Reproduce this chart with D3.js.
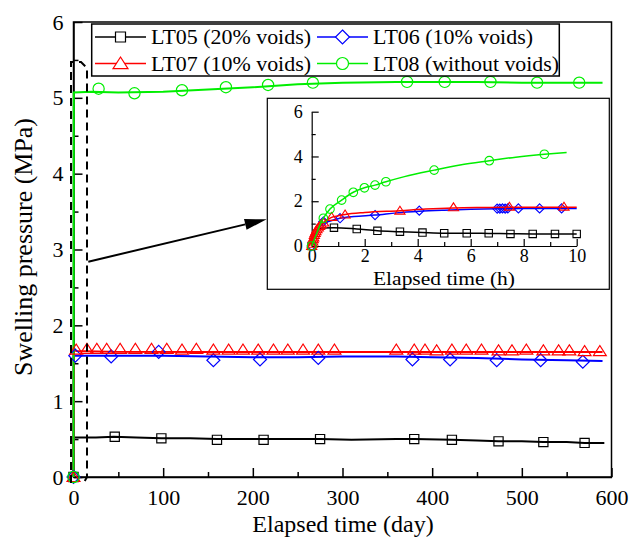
<!DOCTYPE html>
<html><head><meta charset="utf-8">
<script src="https://cdn.jsdelivr.net/npm/d3@7/dist/d3.min.js"></script>
<style>
body{margin:0;background:#fff}
svg{display:block}
</style>
</head><body>
<svg id="c" width="630" height="542" font-family="Liberation Serif, Times New Roman, DejaVu Serif, serif"></svg>
<script>
// ---------------- DATA ----------------
const seriesNames = ["LT05 (20% voids)", "LT06 (10% voids)", "LT07 (10% voids)", "LT08 (without voids)"];
const seriesColors = ["#000000", "#0000ff", "#ff0000", "#00ee00"];
const seriesShapes = ["square", "diamond", "triangle", "circle"];

const xTicksMain = [0, 100, 200, 300, 400, 500, 600];
const xMinorMain = [50, 150, 250, 350, 450, 550];
const yTicksMain = [0, 1, 2, 3, 4, 5, 6];
const yMinorMain = [0.5, 1.5, 2.5, 3.5, 4.5, 5.5];
const xTicksInset = [0, 2, 4, 6, 8, 10];
const xMinorInset = [1, 3, 5, 7, 9];
const yTicksInset = [0, 2, 4, 6];
const yMinorInset = [1, 3, 5];

// main chart (days)
const lt05LineDay = [0, 0.3, 10, 25, 45, 70, 98, 130, 160, 212, 250, 275, 310, 360, 380, 422, 450, 474, 500, 524, 550, 570, 592];
const lt05LineVal = [0, 0.52, 0.52, 0.52, 0.53, 0.52, 0.51, 0.51, 0.50, 0.50, 0.50, 0.50, 0.49, 0.50, 0.50, 0.49, 0.48, 0.47, 0.47, 0.46, 0.46, 0.45, 0.45];
const lt05MarkDay = [0, 46, 98, 160, 212, 275, 380, 422, 474, 524, 570];
const lt05MarkVal = [0, 0.53, 0.51, 0.49, 0.49, 0.50, 0.50, 0.49, 0.47, 0.46, 0.45];

const lt06LineDay = [0, 0.3, 20, 50, 100, 150, 200, 250, 300, 360, 400, 450, 500, 550, 590];
const lt06LineVal = [0, 1.60, 1.60, 1.60, 1.60, 1.59, 1.58, 1.58, 1.59, 1.59, 1.58, 1.57, 1.55, 1.54, 1.53];
const lt06MarkDay = [0, 2, 42, 95, 156, 208, 273, 378, 420, 472, 521, 568];
const lt06MarkVal = [0, 1.60, 1.59, 1.65, 1.54, 1.55, 1.57, 1.55, 1.55, 1.54, 1.54, 1.52];

const lt07LineDay = [0, 0.3, 3, 50, 150, 300, 450, 590];
const lt07LineVal = [0, 1.70, 1.66, 1.65, 1.65, 1.65, 1.65, 1.65];
const lt07MarkDay = [0, 3, 15, 26, 37, 52, 69, 87, 104, 121, 137, 156, 173, 189, 206, 223, 239, 256, 273, 291, 360, 380, 392, 405, 422, 438, 455, 474, 489, 505, 524, 541, 553, 570, 587];
const lt07MarkVal = [0, 1.68, 1.69, 1.69, 1.69, 1.69, 1.69, 1.69, 1.69, 1.68, 1.69, 1.68, 1.68, 1.68, 1.68, 1.68, 1.68, 1.68, 1.68, 1.68, 1.68, 1.68, 1.68, 1.67, 1.68, 1.68, 1.68, 1.67, 1.67, 1.68, 1.67, 1.67, 1.67, 1.66, 1.66];

const lt08LineDay = [0, 0.3, 20, 50, 100, 150, 200, 250, 300, 360, 400, 450, 500, 550, 590];
const lt08LineVal = [0, 5.07, 5.08, 5.07, 5.08, 5.11, 5.14, 5.18, 5.20, 5.21, 5.21, 5.21, 5.20, 5.20, 5.20];
const lt08MarkDay = [0, 28, 68, 121, 170, 217, 267, 372, 414, 465, 517, 564];
const lt08MarkVal = [0, 5.12, 5.06, 5.10, 5.14, 5.17, 5.20, 5.21, 5.21, 5.21, 5.20, 5.20];

// inset (hours)
const lt05InLineH = [0, 0.1, 0.2, 0.4, 0.84, 1.7, 2.48, 3.33, 4.18, 5.0, 5.85, 6.68, 7.5, 8.34, 9.18, 10];
const lt05InLineV = [0, 0.35, 0.6, 0.8, 0.82, 0.76, 0.68, 0.64, 0.60, 0.57, 0.57, 0.56, 0.55, 0.54, 0.54, 0.54];
const lt05InMarkH = [0, 0.84, 1.7, 2.48, 3.33, 4.18, 5.0, 5.85, 6.68, 7.5, 8.34, 9.18, 10];
const lt05InMarkV = [0, 0.82, 0.76, 0.68, 0.64, 0.60, 0.57, 0.57, 0.57, 0.54, 0.54, 0.54, 0.54];

const lt06InLineH = [0, 0.05, 0.15, 0.3, 0.44, 0.7, 1.07, 1.6, 2.39, 3.2, 4.06, 5, 6, 7, 8, 9, 10];
const lt06InLineV = [0, 0.3, 0.6, 0.85, 1.0, 1.12, 1.24, 1.32, 1.38, 1.48, 1.55, 1.6, 1.64, 1.66, 1.67, 1.67, 1.67];
const lt06InMarkH = [0, 0.44, 1.07, 2.39, 4.06, 7.0, 7.1, 7.2, 7.3, 7.4, 7.8, 8.6, 9.43];
const lt06InMarkV = [0, 1.09, 1.24, 1.38, 1.58, 1.67, 1.67, 1.68, 1.67, 1.68, 1.68, 1.68, 1.68];

const lt07InLineH = [0, 0.03, 0.06, 0.1, 0.15, 0.2, 0.3, 0.4, 0.5, 0.75, 1.0, 1.26, 2, 3.33, 4.3, 5.35, 6.4, 7.46, 8.5, 9.52, 10];
const lt07InLineV = [0, 0.2, 0.35, 0.5, 0.65, 0.75, 0.9, 1.0, 1.1, 1.28, 1.35, 1.41, 1.5, 1.58, 1.65, 1.7, 1.72, 1.73, 1.73, 1.73, 1.73];
const lt07InMarkH = [0, 0.02, 0.04, 0.06, 0.08, 0.1, 0.13, 0.16, 0.2, 0.25, 0.3, 0.36, 0.45, 0.75, 1.26, 3.33, 5.35, 7.46, 9.52];
const lt07InMarkV = [0, 0.1, 0.2, 0.3, 0.38, 0.5, 0.58, 0.66, 0.75, 0.83, 0.9, 0.97, 1.05, 1.3, 1.41, 1.58, 1.73, 1.76, 1.76];

const lt08InLineH = [0, 0.1, 0.2, 0.3, 0.44, 0.69, 1.13, 1.57, 1.99, 2.39, 2.8, 3.5, 4.62, 5.6, 6.7, 7.7, 8.78, 9.62];
const lt08InLineV = [0, 0.3, 0.6, 0.9, 1.24, 1.65, 2.05, 2.4, 2.6, 2.72, 2.87, 3.1, 3.39, 3.62, 3.81, 3.97, 4.1, 4.18];
const lt08InMarkH = [0, 0.44, 0.69, 1.13, 1.57, 1.99, 2.39, 2.8, 4.62, 6.7, 8.78];
const lt08InMarkV = [0, 1.24, 1.65, 2.05, 2.4, 2.6, 2.72, 2.87, 3.39, 3.81, 4.1];

// --------------- BUILD ---------------
const FONT = "Liberation Serif, Times New Roman, DejaVu Serif, serif";
const zip = (a, b) => a.map((v, i) => [v, b[i]]);
const series = [
  {line: zip(lt05LineDay, lt05LineVal), mark: zip(lt05MarkDay, lt05MarkVal), inLine: zip(lt05InLineH, lt05InLineV), inMark: zip(lt05InMarkH, lt05InMarkV)},
  {line: zip(lt06LineDay, lt06LineVal), mark: zip(lt06MarkDay, lt06MarkVal), inLine: zip(lt06InLineH, lt06InLineV), inMark: zip(lt06InMarkH, lt06InMarkV)},
  {line: zip(lt07LineDay, lt07LineVal), mark: zip(lt07MarkDay, lt07MarkVal), inLine: zip(lt07InLineH, lt07InLineV), inMark: zip(lt07InMarkH, lt07InMarkV)},
  {line: zip(lt08LineDay, lt08LineVal), mark: zip(lt08MarkDay, lt08MarkVal), inLine: zip(lt08InLineH, lt08InLineV), inMark: zip(lt08InMarkH, lt08InMarkV)}
].map((s, i) => Object.assign(s, {name: seriesNames[i], color: seriesColors[i], shape: seriesShapes[i]}));

function shapePath(kind, r) {
  const p = d3.path();
  if (kind === "square") { p.rect(-r, -r, 2 * r, 2 * r); }
  else if (kind === "circle") { p.moveTo(r, 0); p.arc(0, 0, r, 0, 2 * Math.PI); }
  else if (kind === "diamond") { p.moveTo(0, -r); p.lineTo(r, 0); p.lineTo(0, r); p.lineTo(-r, 0); p.closePath(); }
  else { p.moveTo(0, -r); p.lineTo(r * 1.15, r * 0.8); p.lineTo(-r * 1.15, r * 0.8); p.closePath(); }
  return p.toString();
}
const mainSize = {square: 4.6, circle: 5.6, diamond: 6.5, triangle: 5.6};
const inSize = {square: 3.7, circle: 4.3, diamond: 4.6, triangle: 4.4};
const legSize = {square: 5, circle: 6, diamond: 7, triangle: 6.5};

const svg = d3.select("#c");
const fmt = d3.format("d");

const x = d3.scaleLinear().domain([0, 600]).range([73.5, 611.5]);
const y = d3.scaleLinear().domain([0, 6]).range([477, 22]);

function styleAxis(g, fs, sw) {
  g.attr("font-family", FONT).attr("font-size", fs);
  g.selectAll("path.domain").attr("stroke", "#000").attr("stroke-width", sw);
  g.selectAll(".tick line").attr("stroke", "#000").attr("stroke-width", sw);
  g.selectAll(".tick text").attr("fill", "#000").attr("font-family", FONT);
}
function addText(parent, fs) {
  return parent.append("text").attr("font-family", FONT).attr("font-size", fs).attr("fill", "#000");
}

// frame
svg.append("rect").attr("x", x(0)).attr("y", y(6)).attr("width", x(600) - x(0)).attr("height", y(0) - y(6))
  .attr("fill", "none").attr("stroke", "#000").attr("stroke-width", 1.5);

// main axes
const gx = svg.append("g").attr("transform", `translate(0,${y(0)})`)
  .call(d3.axisBottom(x).tickValues(xTicksMain).tickFormat(fmt).tickSize(-9).tickSizeOuter(0).tickPadding(12));
styleAxis(gx, 22, 1.5);
const gxm = svg.append("g").attr("transform", `translate(0,${y(0)})`)
  .call(d3.axisBottom(x).tickValues(xMinorMain).tickSize(-5).tickSizeOuter(0).tickFormat(""));
styleAxis(gxm, 22, 1.5); gxm.select(".domain").remove();

const gy = svg.append("g").attr("transform", `translate(${x(0)},0)`)
  .call(d3.axisLeft(y).tickValues(yTicksMain).tickFormat(fmt).tickSize(-9).tickSizeOuter(0).tickPadding(10));
styleAxis(gy, 22, 1.5);
const gym = svg.append("g").attr("transform", `translate(${x(0)},0)`)
  .call(d3.axisLeft(y).tickValues(yMinorMain).tickSize(-5).tickSizeOuter(0).tickFormat(""));
styleAxis(gym, 22, 1.5); gym.select(".domain").remove();

// titles
addText(svg, 24).attr("x", 343).attr("y", 532).attr("text-anchor", "middle").text("Elapsed time (day)");
addText(svg, 25).attr("transform", "translate(32,247) rotate(-90)").attr("text-anchor", "middle")
  .attr("textLength", 258).attr("lengthAdjust", "spacingAndGlyphs").text("Swelling pressure (MPa)");

// main lines + markers
const lineMain = d3.line().x(d => x(d[0])).y(d => y(d[1]));
series.forEach(s => {
  svg.append("path").datum(s.line).attr("d", lineMain).attr("fill", "none").attr("stroke", s.color).attr("stroke-width", 2);
});
series.forEach(s => {
  svg.append("g").selectAll("path").data(s.mark).join("path")
    .attr("transform", d => `translate(${x(d[0])},${y(d[1])})`)
    .attr("d", shapePath(s.shape, mainSize[s.shape]))
    .attr("fill", "none").attr("stroke", s.color).attr("stroke-width", 1.2);
});

// legend
const leg = svg.append("g");
leg.append("rect").attr("x", 91.7).attr("y", 24).attr("width", 467.6).attr("height", 52)
  .attr("fill", "#fff").attr("stroke", "#000").attr("stroke-width", 1.5);
const legPos = [[95, 37], [317, 37], [95, 63.5], [317, 63.5]];
const legTextLen = [160, 160, 160, 186];
series.forEach((s, i) => {
  const [lx, ly] = legPos[i];
  const g = leg.append("g").attr("transform", `translate(${lx},${ly})`);
  g.append("line").attr("x1", 0).attr("x2", 51).attr("y1", 0).attr("y2", 0).attr("stroke", s.color).attr("stroke-width", 1.5);
  g.append("path").attr("transform", "translate(25.5,0)").attr("d", shapePath(s.shape, legSize[s.shape]))
    .attr("fill", "#fff").attr("stroke", s.color).attr("stroke-width", 1.2);
  addText(g, 20.5).attr("x", 56).attr("y", 7)
    .attr("textLength", legTextLen[i]).attr("lengthAdjust", "spacingAndGlyphs").text(s.name);
});

// inset
svg.append("rect").attr("x", 267.3).attr("y", 98.3).attr("width", 342).attr("height", 191)
  .attr("fill", "#fff").attr("stroke", "#000").attr("stroke-width", 1.2);
const xi = d3.scaleLinear().domain([0, 10]).range([311.7, 576.7]);
const yi = d3.scaleLinear().domain([0, 6]).range([246, 111.7]);
const gxi = svg.append("g").attr("transform", `translate(0,${yi(0)})`)
  .call(d3.axisBottom(xi).tickValues(xTicksInset).tickFormat(fmt).tickSize(-7).tickSizeOuter(0).tickPadding(3));
styleAxis(gxi, 18, 1.2);
const gxim = svg.append("g").attr("transform", `translate(0,${yi(0)})`)
  .call(d3.axisBottom(xi).tickValues(xMinorInset).tickSize(-4).tickSizeOuter(0).tickFormat(""));
styleAxis(gxim, 18, 1.2); gxim.select(".domain").remove();
const gyi = svg.append("g").attr("transform", `translate(${xi(0)},0)`)
  .call(d3.axisLeft(yi).tickValues(yTicksInset).tickFormat(fmt).tickSize(-7).tickSizeOuter(0).tickPadding(9));
styleAxis(gyi, 18, 1.2);
const gyim = svg.append("g").attr("transform", `translate(${xi(0)},0)`)
  .call(d3.axisLeft(yi).tickValues(yMinorInset).tickSize(-4).tickSizeOuter(0).tickFormat(""));
styleAxis(gyim, 18, 1.2); gyim.select(".domain").remove();
addText(svg, 19).attr("x", 444).attr("y", 285).attr("text-anchor", "middle")
  .attr("textLength", 142).attr("lengthAdjust", "spacingAndGlyphs").text("Elapsed time (h)");

const lineIn = d3.line().x(d => xi(d[0])).y(d => yi(d[1])).curve(d3.curveMonotoneX);
series.forEach(s => {
  svg.append("path").datum(s.inLine).attr("d", lineIn).attr("fill", "none").attr("stroke", s.color).attr("stroke-width", 1.5);
  svg.append("g").selectAll("path").data(s.inMark).join("path")
    .attr("transform", d => `translate(${xi(d[0])},${yi(d[1])})`)
    .attr("d", shapePath(s.shape, inSize[s.shape]))
    .attr("fill", "none").attr("stroke", s.color).attr("stroke-width", 1.1);
});

// dashed zoom box + arrow
svg.append("path").attr("d", "M71,483 V62 H81 L87,68 V477 L83,484")
  .attr("fill", "none").attr("stroke", "#000").attr("stroke-width", 2).attr("stroke-dasharray", "8,5");
const a0 = [88.3, 261.7], a1 = [266.7, 219.3];
const ang = Math.atan2(a1[1] - a0[1], a1[0] - a0[0]);
const L = 22, W = 5.5;
const bx = a1[0] - L * Math.cos(ang), by = a1[1] - L * Math.sin(ang);
svg.append("line").attr("x1", a0[0]).attr("y1", a0[1]).attr("x2", bx).attr("y2", by).attr("stroke", "#000").attr("stroke-width", 2);
svg.append("path").attr("d", `M${a1[0]},${a1[1]} L${bx + W * Math.sin(ang)},${by - W * Math.cos(ang)} L${bx - W * Math.sin(ang)},${by + W * Math.cos(ang)} Z`).attr("fill", "#000");
</script>
</body></html>
